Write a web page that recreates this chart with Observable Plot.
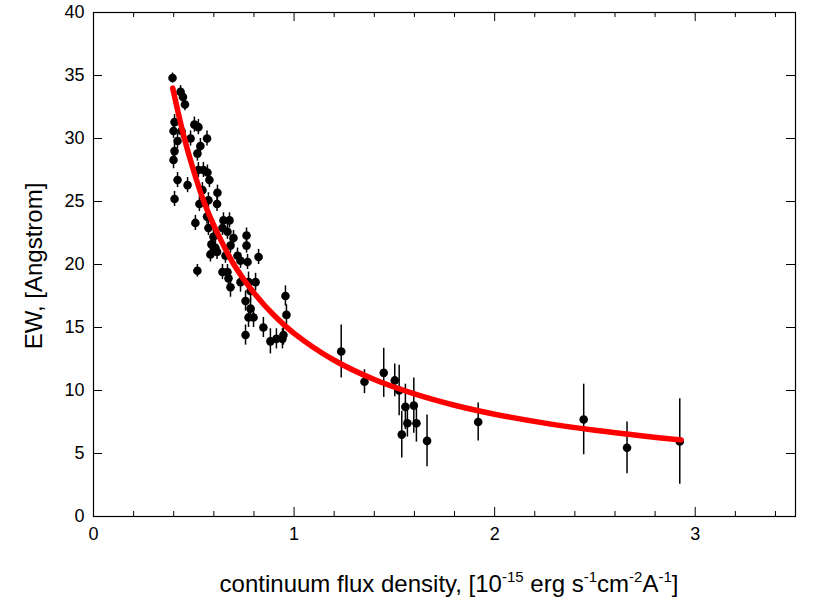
<!DOCTYPE html>
<html><head><meta charset="utf-8">
<script src="https://cdn.jsdelivr.net/npm/d3@7"></script>
<script src="https://cdn.jsdelivr.net/npm/@observablehq/plot@0.6"></script>
<style>body{margin:0;background:#fff;}</style>
</head><body><div id="chart"></div>
<script>
// continuum flux density [1e-15 erg s-1 cm-2 A-1]
const fluxX = [
  0.394,0.434,0.446,0.456,0.404,0.399,0.419,0.439,0.484,0.503,0.523,0.566,0.533,0.404,0.518,0.399,
  0.548,0.523,0.568,0.419,0.469,0.578,0.618,0.404,0.528,0.573,0.616,0.508,0.566,0.648,0.678,0.573,
  0.643,0.668,0.698,0.763,0.763,0.588,0.608,0.583,0.616,0.658,0.683,0.718,0.733,0.768,0.823,0.518,
  0.643,0.668,0.673,0.683,0.733,0.773,0.808,0.783,0.758,0.783,0.773,0.798,0.957,0.962,0.847,0.758,
  0.882,0.912,0.947,0.942,0.598,0.543,
  1.235,1.351,1.447,1.502,1.524,1.537,1.555,1.565,1.597,1.610,1.663,1.918,2.444,2.660,2.923
];
// equivalent width [Angstrom]
const ewY = [
  34.8,33.7,33.3,32.7,31.3,30.6,29.8,30.6,30.0,31.1,30.9,30.0,29.4,29.0,28.8,28.3,
  27.5,27.5,27.3,26.7,26.3,26.7,25.7,25.2,24.8,25.1,24.8,23.3,23.8,23.5,23.5,22.9,
  22.9,22.6,22.1,22.3,21.5,21.6,21.3,20.8,21.0,20.7,21.5,20.7,20.3,20.2,20.6,19.5,
  19.4,19.4,18.9,18.2,18.6,18.6,18.6,17.9,17.1,16.5,15.8,15.8,17.5,16.0,15.0,14.4,
  13.9,14.1,14.4,14.1,22.2,25.9,
  13.1,10.7,11.4,10.8,10.0,6.5,8.7,7.4,8.8,7.4,6.0,7.5,7.7,5.45,5.95
];
// error of EW
const ewErr = [
  0.4,0.5,0.5,0.5,0.6,0.6,0.6,0.6,0.6,0.6,0.6,0.6,0.6,0.6,0.6,0.7,
  0.6,0.6,0.6,0.6,0.6,0.6,0.6,0.6,0.6,0.6,0.6,0.6,0.6,0.6,0.6,0.6,
  0.6,0.6,0.6,0.6,0.6,0.6,0.6,0.6,0.6,0.6,0.6,0.6,0.6,0.6,0.6,0.5,
  0.6,0.6,0.7,0.8,0.8,0.8,0.7,0.8,0.8,0.8,0.8,0.8,0.8,0.8,0.8,0.8,
  1.0,0.8,0.8,0.8,0.6,0.6,
  2.1,0.95,1.95,1.3,2.0,1.85,1.8,1.1,2.2,1.5,2.05,1.5,2.8,2.05,3.4
];
// fitted curve
const fitX = [0.395,0.45,0.5,0.55,0.6,0.7,0.8,0.9,1.0,1.2,1.4,1.6,1.8,2.0,2.25,2.5,2.75,2.93];
const fitY = [34.0,30.2,27.4,25.0,23.1,20.0,17.75,15.97,14.54,12.4,10.87,9.73,8.83,8.12,7.41,6.84,6.37,6.08];

const xMajorTicks = [0,1,2,3];
const xMinorTicks = [0.2,0.4,0.6,0.8,1.2,1.4,1.6,1.8,2.2,2.4,2.6,2.8,3.2,3.4];
const yTicks = [0,5,10,15,20,25,30,35,40];

const points = fluxX.map((x,i)=>({x, y: ewY[i], e: ewErr[i]}));
const fit = fitX.map((x,i)=>({x, y: fitY[i]}));

const W=830, H=613, mL=93, mR=35, mT=12, mB=97;
const pw = W-mL-mR, ph = H-mT-mB;

const chart = Plot.plot({
  width: W, height: H,
  marginLeft: mL, marginRight: mR, marginTop: mT, marginBottom: mB,
  style: {fontFamily: "'Liberation Sans', Arial, sans-serif", fontSize: "18px", background: "white", color: "black", overflow: "visible"},
  x: {domain: [0,3.5], ticks: xMajorTicks, tickFormat: d3.format("d"), tickSize: 0, tickPadding: 11, label: null},
  y: {domain: [0,40], ticks: yTicks, tickFormat: d3.format("d"), tickSize: 0, tickPadding: 9, label: null},
  marks: [
    Plot.ruleX(points, {x: "x", y1: d=>d.y-d.e, y2: d=>d.y+d.e, stroke: "black", strokeWidth: 1.5}),
    Plot.dot(points, {x: "x", y: "y", r: 4.3, fill: "black", stroke: "none"}),
    Plot.line(fit, {x: "x", y: "y", stroke: "#ff0000", strokeWidth: 5.5, curve: "catmull-rom"}),
    Plot.frame({stroke: "black", strokeWidth: 1.2}),
    Plot.ruleX(xMajorTicks, {insetTop: ph-9, stroke: "black"}),
    Plot.ruleX(xMajorTicks, {insetBottom: ph-9, stroke: "black"}),
    Plot.ruleX(xMinorTicks, {insetTop: ph-5, stroke: "black"}),
    Plot.ruleX(xMinorTicks, {insetBottom: ph-5, stroke: "black"}),
    Plot.ruleY(yTicks, {insetRight: pw-9, stroke: "black"}),
    Plot.ruleY(yTicks, {insetLeft: pw-9, stroke: "black"})
  ]
});
document.getElementById("chart").appendChild(chart);

const svg = d3.select(chart);
const t = svg.append("text")
  .attr("x", mL + pw/2 + 5).attr("y", 592)
  .attr("text-anchor", "middle")
  .style("font-size", "24px").style("fill", "black");
t.append("tspan").text("continuum flux density, [10");
t.append("tspan").attr("dy", -10).style("font-size", "15px").text("-15");
t.append("tspan").attr("dy", 10).text(" erg s");
t.append("tspan").attr("dy", -10).style("font-size", "15px").text("-1");
t.append("tspan").attr("dy", 10).text("cm");
t.append("tspan").attr("dy", -10).style("font-size", "15px").text("-2");
t.append("tspan").attr("dy", 10).text("A");
t.append("tspan").attr("dy", -10).style("font-size", "15px").text("-1");
t.append("tspan").attr("dy", 10).text("]");

svg.append("text")
  .attr("transform", `translate(33,${mT + ph/2 + 2}) rotate(-90)`)
  .attr("text-anchor", "middle").attr("dominant-baseline", "central")
  .style("font-size", "24px").style("fill", "black")
  .text("EW, [Angstrom]");
</script>
</body></html>
